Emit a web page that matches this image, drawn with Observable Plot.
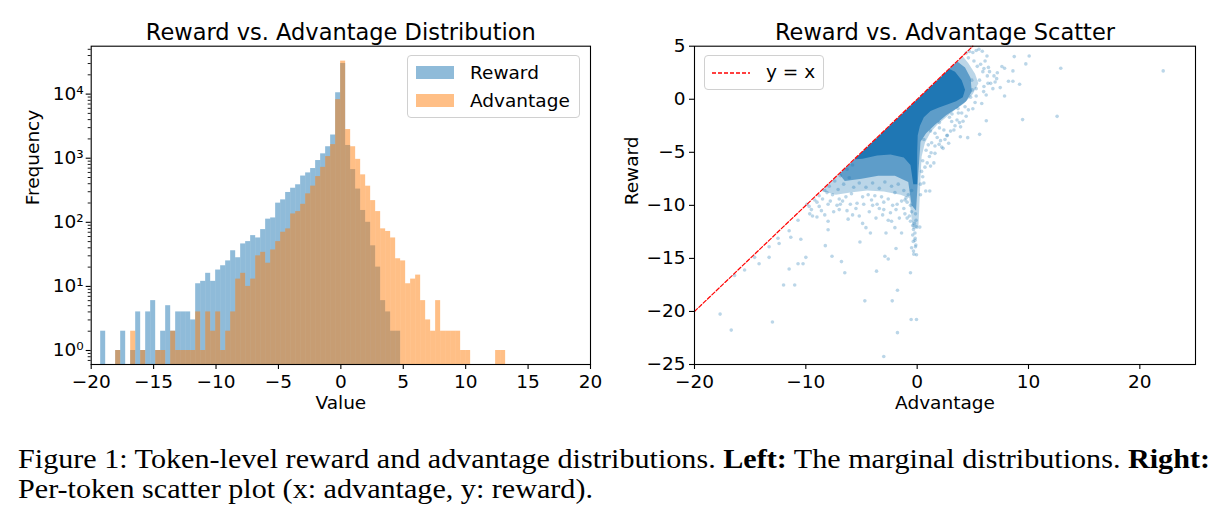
<!DOCTYPE html>
<html>
<head>
<meta charset="utf-8">
<script src="https://cdn.jsdelivr.net/npm/d3@7"></script>
<script src="https://cdn.jsdelivr.net/npm/@observablehq/plot@0.6"></script>
<style>
  html, body { margin: 0; padding: 0; background: #fff; }
  #fig { position: relative; width: 1223px; height: 523px; background: #fff; overflow: hidden; font-family: "DejaVu Sans", sans-serif; }
  .panel { position: absolute; top: 0; }
  .legend { position: absolute; background: rgba(255,255,255,0.8); border: 1px solid #d0d0d0; border-radius: 4px; box-sizing: border-box; }
  .lg-item { position: absolute; font-size: 18.5px; color: #000; line-height: 1; white-space: nowrap; }
  .sw { position: absolute; }
  #caption { position: absolute; left: 18px; top: 444px; font-family: "Liberation Serif", "Times New Roman", serif; font-size: 28px; line-height: 30px; color: #000; white-space: nowrap; transform-origin: 0 0; }
  #caption div span { white-space: pre; }
</style>
</head>
<body>
<div id="fig">
  <div id="left" class="panel" style="left:0px"></div>
  <div id="right" class="panel" style="left:610px"></div>
  <div class="legend" style="left:407px; top:55px; width:173px; height:63px;">
    <div class="sw" style="left:8px; top:10px; width:38px; height:13px; background:#1f77b4; opacity:0.5"></div>
    <div class="sw" style="left:8px; top:38px; width:38px; height:13px; background:#ff7f0e; opacity:0.5"></div>
    <div class="lg-item" id="lg1" style="left:62px; top:8px;"></div>
    <div class="lg-item" id="lg2" style="left:62px; top:36px;"></div>
  </div>
  <div class="legend" style="left:704px; top:55px; width:120px; height:35px;">
    <svg class="sw" style="left:7px; top:15px;" width="40" height="4"><line x1="0" y1="2" x2="38" y2="2" stroke="red" stroke-width="1.3" stroke-dasharray="4,2"></line></svg>
    <div class="lg-item" id="lg3" style="left:61px; top:7px;"></div>
  </div>
  <div id="caption"></div>
</div>
<script>
// ---------------- data ----------------
const histTitle = "Reward vs. Advantage Distribution";
const scatterTitle = "Reward vs. Advantage Scatter";
const seriesNames = ["Reward", "Advantage"];
const lineName = "y = x";
const captionLine1 = ["Figure 1: Token-level reward and advantage distributions. ", "Left:", " The marginal distributions. ", "Right:"];
const captionLine2 = "Per-token scatter plot (x: advantage, y: reward).";

// shared histogram bins (left edge of first bin, bin width)
const binLo = -19.24;
const binW = 0.4005;
const rewardCounts = [
  2, 0, 0, 1, 2, 0, 1, 4, 1, 4,
  6, 1, 2, 5, 2, 4, 4, 4, 3, 11,
  12, 16, 12, 18, 21, 25, 36, 28, 46, 50,
  62, 57, 77, 112, 117, 199, 224, 292, 340, 385,
  527, 590, 690, 920, 1170, 1510, 2300, 10500, 30000, 1580,
  665, 330, 153, 100, 43, 20, 6, 4, 2, 2,
  0, 0, 0, 0, 0, 0, 0, 0, 0, 0,
  0, 0, 0, 0, 0, 0, 0, 0, 0, 0, 0
];
const advantageCounts = [
  0, 0, 0, 1, 0, 0, 2, 0, 1, 0,
  0, 1, 1, 0, 2, 1, 1, 1, 1, 4,
  1, 4, 2, 4, 1, 2, 4, 13, 16, 10,
  13, 30, 34, 23, 37, 50, 70, 79, 135, 147,
  191, 278, 367, 517, 720, 1060, 1630, 8200, 32700, 2800,
  1510, 960, 550, 366, 218, 147, 79, 72, 57, 27,
  25, 11, 13, 15, 6, 3, 2, 6, 2, 2,
  2, 2, 1, 1, 0, 0, 0, 0, 0, 1, 1
];
const histXTicks = [-20, -15, -10, -5, 0, 5, 10, 15, 20];
const histYTicks = [1, 10, 100, 1000, 10000];
const histYTickLabels = ["10\u2070", "10\u00B9", "10\u00B2", "10\u00B3", "10\u2074"];
const histXDomain = [-20, 20];
const histYDomain = [0.605, 55900];

// scatter: dense core and surrounding density bands (outlines)
const coreAdv = [-5.6, 2.9, 3.4, 4.0, 4.3, 4.1, 3.5, 2.7, 1.9, 1.2, 0.6, 0.25, 0.05, 0.0, 0.0, -0.35, -0.6, -1.2, -2.4, -3.6, -4.9];
const coreRew = [-5.65, 2.85, 2.6, 1.8, 0.9, 0.2, -0.2, -0.5, -0.8, -1.1, -1.7, -2.5, -3.4, -5.0, -8.0, -8.0, -6.2, -5.5, -5.2, -5.3, -5.6];
const band1Adv = [-7.0, 3.6, 4.3, 4.8, 4.9, 4.4, 3.5, 2.6, 1.6, 0.8, 0.3, 0.1, -0.1, -0.5, -0.8, -2.0, -3.5, -5.0, -6.5];
const band1Rew = [-7.05, 3.55, 3.0, 2.0, 0.7, -0.2, -0.9, -1.5, -2.4, -3.2, -4.0, -7.0, -10.5, -10.0, -7.8, -7.2, -7.2, -7.5, -7.7];
const band2Adv = [-8.6, 4.1, 4.6, 5.2, 5.5, 5.0, 4.2, 3.4, 2.6, 1.8, 1.2, 0.7, 0.4, 0.3, 0.2, 0.1, -0.4, -0.7, -1.5, -3.0, -4.5, -6.0, -7.3, -8.4];
const band2Rew = [-8.65, 4.05, 3.4, 2.4, 1.5, 0.5, -0.4, -1.0, -1.7, -2.4, -3.1, -4.1, -5.4, -7.4, -10, -12.2, -12.2, -9.3, -9.0, -8.7, -8.6, -8.8, -9.0, -8.7];

// individual scattered tokens (advantage, reward)
const pointAdv = [
  -17.7, -16.7, -13.0, -12.0, -11.0, -11.5, -10.7, -10.25, -10.0, -14.2,
  -13.3, -14.6, -15.5, -16.4, -13.3, -12.4, -12.5, -11.35, -11.5, -10.45,
  -10.7, -9.65, -9.4, -9.0, -8.6, -8.3, -8.0, -8.0, -8.25, -7.65,
  -6.8, -6.5, -5.14, -4.6, -4.2, -3.65, -4.7, -3.0, -2.8, -2.9,
  -2.6, -1.9, -1.77, -2.24, -1.77, -0.54, -0.06, -0.6, -0.33, -0.06,
  -0.33, -0.12, -0.18, -0.25, -0.1, -0.15, 0.24, 0.77, 1.13, -2.6,
  -2.3, -1.6, -1.1, -0.6, -0.9, -1.1, -3.4, -4.0, -5.8, -6.3,
  -7.0, -5.2, -6.9, -3.0, -2.2, -9.9, -8.8,
  22.1, 12.9, 12.57, 9.47, 6.21, 8.72, 10.06, 9.76, 7.85, 7.61,
  8.6, 9.2, 8.6, 8.2, 7.85, 7.46, 7.14, 7.0, 6.27, 5.85,
  5.55, 6.36, 5.97, 4.54, 3.88, 4.12, 3.58, 2.83, 2.33, 1.97,
  2.68, 1.25, 0.6, 5.61, 4.95, 3.13, 3.67, 1.5, 1.2, 2.5,
  3.4, 2.0, 1.6, 1.0,
  -5.8, -6.3, -6.9, -7.4, -7.9, -8.3, -8.8, -9.2, -9.7, -6.1,
  -6.6, -7.1, -7.6, -5.7, -5.2, -4.6, -4.0, -3.4, -2.9, -2.3,
  -1.7, -1.2, -0.8, -4.9, -3.8, -2.6, -1.4, -6.4, -7.8, -5.4,
  -4.3, -3.1, -1.9, -0.7, -0.4, -0.2, -0.5, -0.3, -0.1, -0.6,
  4.4, 4.6, 5.1, 5.4, 5.9, 6.3, 5.6, 6.0, 5.3, 4.8,
  4.3, 3.7, 3.1, 2.4, 1.8, 1.3, 0.8, 0.5, 0.4, 0.3,
  0.9, 1.6, 2.2, 3.0, 3.9, 4.6, 5.2, 6.6, 6.9, 6.4, 5.0,
  -8.5, -8.0, -7.2, -6.7, -6.0, -5.5, -4.8, -4.1, -3.6, -3.0,
  -2.4, -1.8, -1.2, -0.9, -0.5, -0.4, -0.2, -0.35, -0.15, -7.5,
  -6.2, -4.9, -3.7, -2.0, -1.4, -9.0, -9.5, -8.1, -7.0, -5.9,
  -4.4, -3.2, -2.0, -1.0, -0.5,
  5.7, 6.1, 6.5, 6.8, 7.2, 6.2, 5.8, 5.0, 4.4, 3.8,
  3.3, 2.7, 2.1, 1.6, 1.1, 0.7, 0.5, 0.3, 0.6, 1.2,
  2.0, 2.9, 4.9, 5.3, 4.0, 6.0, 4.7, 5.3
];
const pointRew = [
  -20.25, -21.76, -21.0, -17.5, -17.5, -16.0, -15.5, -15.5, -14.9, -15.5,
  -14.9, -14.9, -16.1, -16.6, -13.9, -13.6, -13.1, -13.0, -12.4, -13.2,
  -11.4, -10.8, -11.0, -11.1, -10.5, -10.9, -11.5, -12.3, -13.8, -14.8,
  -15.3, -16.35, -13.46, -12.1, -12.6, -16.2, -19.0, -24.25, -12.6, -14.8,
  -15.06, -14.06, -18.0, -19.0, -22.0, -20.76, -20.76, -16.35, -14.3, -14.66,
  -12.27, -13.74, -13.1, -11.7, -11.4, -10.8, -12.05, -8.65, -8.65, -11.4,
  -11.5, -11.2, -10.8, -10.0, -9.7, -9.5, -10.3, -10.0, -10.9, -10.5,
  -10.4, -11.0, -9.9, -9.7, -10.0, -9.9, -10.1,
  2.67, 2.92, -1.61, -1.92, -2.02, 4.02, 4.08, 3.33, 2.92, 3.08,
  2.67, 1.41, 1.69, 1.69, 0.31, 1.1, 1.94, 1.63, 4.08, 4.52,
  4.71, 1.5, 0.72, -3.62, -3.53, -2.08, -1.95, -4.15, -4.63, -4.25,
  -3.43, -5.04, -7.9, -3.31, 0.88, -1.39, -0.88, -6.0, -6.3, -3.8,
  -2.5, -2.7, -3.2, -4.3,
  -6.2, -6.6, -7.2, -7.7, -8.2, -8.6, -9.1, -9.5, -10.1, -7.4,
  -8.0, -8.5, -9.0, -8.3, -7.9, -8.3, -7.9, -8.4, -7.8, -8.2,
  -8.0, -8.6, -9.0, -9.2, -9.1, -9.4, -9.6, -9.2, -9.6, -9.8,
  -10.6, -10.9, -10.4, -11.0, -12.8, -13.3, -14.0, -14.6, -12.0, -11.5,
  4.35, 3.9, 3.6, 3.1, 2.6, 2.2, 1.8, 1.2, 1.0, 0.2,
  -0.7, -1.3, -2.1, -2.9, -3.6, -4.1, -4.8, -5.8, -6.8, -8.0,
  -6.0, -5.1, -4.5, -3.0, -2.6, -1.0, -0.3, 1.5, 2.2, 3.0, 4.4,
  -9.4, -9.9, -10.0, -9.6, -9.9, -10.3, -9.9, -9.5, -9.9, -10.4,
  -10.7, -9.9, -10.3, -11.2, -10.6, -11.9, -12.6, -13.4, -13.9, -10.6,
  -11.3, -11.7, -11.2, -12.1, -12.6, -9.7, -10.4, -8.8, -9.4, -8.9,
  -9.0, -9.2, -8.8, -9.3, -8.6,
  3.3, 3.6, 2.6, 1.0, 2.5, 0.4, -0.4, -0.9, -1.6, -2.2,
  -2.9, -3.4, -3.9, -4.4, -5.4, -6.4, -7.3, -9.0, -3.8, -3.0,
  -2.2, -1.7, 1.8, 0.3, -1.3, 2.9, 4.5, 4.6
];
const refLineX = [-20, 5];
const refLineY = [-20, 5];
const scXTicks = [-20, -10, 0, 10, 20];
const scYTicks = [5, 0, -5, -10, -15, -20, -25];
const scXDomain = [-20, 25];
const scYDomain = [-25, 5];
const axisLabels = { histX: "Value", histY: "Frequency", scX: "Advantage", scY: "Reward" };

// ---------------- helpers ----------------
const FS = 18.5;
const fmt = d => (d < 0 ? "\u2212" + Math.abs(d) : String(d));
const style = { fontFamily: "DejaVu Sans, sans-serif", fontSize: FS + "px", color: "#000", background: "transparent", overflow: "visible" };

function titleMark(t) {
  return Plot.text([t], { text: d => d, frameAnchor: "top", dy: -6.5, lineAnchor: "bottom", fontSize: 22.5, fill: "#000" });
}
function xLabelMark(t) {
  return Plot.text([t], { text: d => d, frameAnchor: "bottom", dy: 44, lineAnchor: "bottom", fontSize: FS, fill: "#000" });
}
function yLabelMark(t, off) {
  return Plot.text([t], { text: d => d, frameAnchor: "left", dx: -off, rotate: -90, lineAnchor: "bottom", fontSize: FS, fill: "#000" });
}

// ---------------- left: histogram ----------------
const bins = rewardCounts.map((c, k) => ({
  x1: binLo + k * binW,
  x2: binLo + (k + 1) * binW,
  reward: c,
  advantage: advantageCounts[k]
}));
const minorTicks = [];
for (let e = -1; e <= 4; e++) for (let m = 2; m <= 9; m++) {
  const v = m * Math.pow(10, e);
  if (v > histYDomain[0] && v < histYDomain[1]) minorTicks.push(v);
}

const left = Plot.plot({
  width: 610, height: 420,
  marginLeft: 90.7, marginRight: 20, marginTop: 45.7, marginBottom: 56,
  style,
  x: { domain: histXDomain },
  y: { type: "log", domain: histYDomain },
  marks: [
    Plot.rect(bins.filter(d => d.reward > 0), { x1: "x1", x2: "x2", y1: histYDomain[0], y2: "reward", fill: "#1f77b4", fillOpacity: 0.5 }),
    Plot.rect(bins.filter(d => d.advantage > 0), { x1: "x1", x2: "x2", y1: histYDomain[0], y2: "advantage", fill: "#ff7f0e", fillOpacity: 0.5 }),
    Plot.frame({ stroke: "#000", strokeWidth: 1.1 }),
    Plot.axisX({ ticks: histXTicks, tickFormat: fmt, tickSize: 5, tickPadding: 5, label: null, fontSize: FS, stroke: "#000", strokeWidth: 1.1 }),
    Plot.axisY({ ticks: histYTicks, tickFormat: (d) => histYTickLabels[histYTicks.indexOf(d)], tickSize: 5, tickPadding: 2.5, label: null, fontSize: FS, stroke: "#000", strokeWidth: 1.1 }),
    Plot.axisY({ ticks: minorTicks, tickFormat: () => "", tickSize: 3, label: null, stroke: "#000", strokeWidth: 0.9 }),
    titleMark(histTitle),
    xLabelMark(axisLabels.histX),
    yLabelMark(axisLabels.histY, 52)
  ]
});
document.getElementById("left").appendChild(left);

// ---------------- right: scatter ----------------
const poly = (xs, ys) => xs.map((x, i) => ({ adv: x, rew: ys[i] }));
const pts = pointAdv.map((x, i) => ({ adv: x, rew: pointRew[i] }));
const refLine = refLineX.map((x, i) => ({ adv: x, rew: refLineY[i] }));

const right = Plot.plot({
  width: 613, height: 420,
  marginLeft: 84, marginRight: 28, marginTop: 45.7, marginBottom: 56,
  style,
  x: { domain: scXDomain },
  y: { domain: scYDomain },
  marks: [
    Plot.line(poly(band2Adv, band2Rew), { x: "adv", y: "rew", curve: "linear-closed", fill: "#1f77b4", fillOpacity: 0.3, stroke: "none" }),
    Plot.line(poly(band1Adv, band1Rew), { x: "adv", y: "rew", curve: "linear-closed", fill: "#1f77b4", fillOpacity: 0.6, stroke: "none" }),
    Plot.line(poly(coreAdv, coreRew), { x: "adv", y: "rew", curve: "linear-closed", fill: "#1f77b4", fillOpacity: 1, stroke: "none" }),
    Plot.dot(pts, { x: "adv", y: "rew", r: 1.8, fill: "#1f77b4", fillOpacity: 0.3, stroke: "none" }),
    Plot.line(refLine, { x: "adv", y: "rew", stroke: "red", strokeWidth: 1.2, strokeDasharray: "4,2" }),
    Plot.frame({ stroke: "#000", strokeWidth: 1.1 }),
    Plot.axisX({ ticks: scXTicks, tickFormat: fmt, tickSize: 5, tickPadding: 5, label: null, fontSize: FS, stroke: "#000", strokeWidth: 1.1 }),
    Plot.axisY({ ticks: scYTicks, tickFormat: fmt, tickSize: 5, tickPadding: 4, label: null, fontSize: FS, stroke: "#000", strokeWidth: 1.1 }),
    titleMark(scatterTitle),
    xLabelMark(axisLabels.scX),
    yLabelMark(axisLabels.scY, 57)
  ]
});
document.getElementById("right").appendChild(right);

// ---------------- legends & caption ----------------
document.getElementById("lg1").textContent = seriesNames[0];
document.getElementById("lg2").textContent = seriesNames[1];
document.getElementById("lg3").textContent = lineName;
const cap = document.getElementById("caption");
const l1 = document.createElement("div");
captionLine1.forEach((s, i) => {
  const sp = document.createElement("span");
  sp.textContent = s;
  if (i % 2 === 1) sp.style.fontWeight = "bold";
  l1.appendChild(sp);
});
const l2 = document.createElement("div");
l2.textContent = captionLine2;
cap.appendChild(l1);
cap.appendChild(l2);
// stretch caption horizontally so that its first line spans the page width like the reference
let w1 = 0;
l1.querySelectorAll("span").forEach(s => { w1 += s.getBoundingClientRect().width; });
if (w1 > 0) cap.style.transform = "scaleX(" + (1192 / w1) + ")";
</script>
</body>
</html>
